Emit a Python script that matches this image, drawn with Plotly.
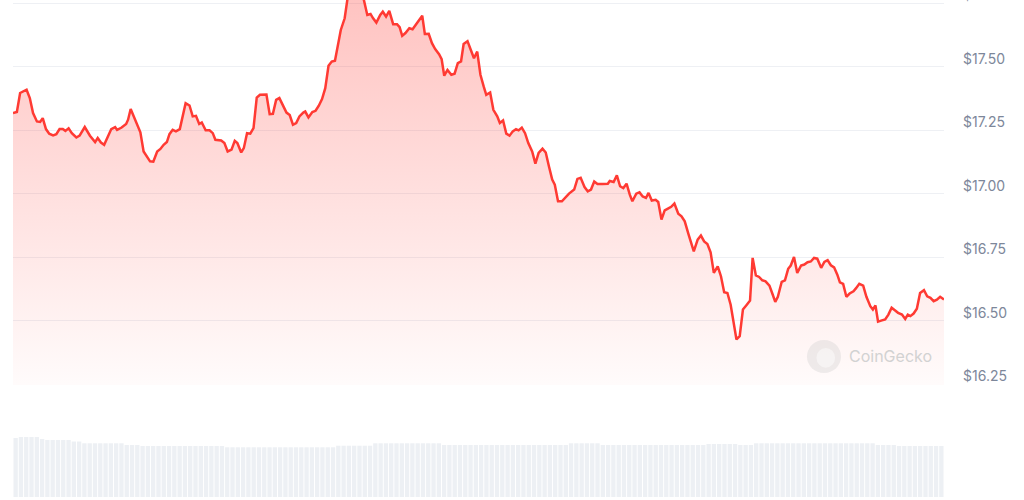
import pandas as pd
import plotly.graph_objects as go

# 24h price, minutes from start of window / USD
minutes = [
    0, 6, 11, 16, 21, 26, 31, 37, 42, 46, 51, 56, 62, 67, 72, 77, 81, 86, 91, 98,
    103, 111, 119, 127, 131, 136, 141, 152, 158, 161, 168, 175, 178, 182, 186, 192, 197, 202, 207, 212,
    217, 223, 228, 233, 238, 242, 247, 252, 258, 263, 267, 273, 278, 283, 288, 292, 298, 304, 309, 313,
    322, 327, 332, 338, 343, 347, 353, 357, 362, 367, 372, 377, 382, 392, 397, 402, 407, 412, 418, 423,
    428, 433, 438, 443, 449, 452, 457, 463, 468, 473, 478, 483, 488, 493, 498, 502, 507, 513, 518, 523,
    530, 536, 542, 548, 553, 557, 562, 568, 572, 577, 582, 588, 594, 598, 602, 607, 613, 618, 623, 628,
    633, 637, 643, 648, 653, 659, 663, 667, 672, 678, 683, 688, 693, 697, 703, 708, 713, 718, 723, 728,
    732, 738, 743, 749, 753, 758, 763, 768, 773, 778, 782, 787, 792, 797, 803, 808, 813, 819, 824, 829,
    834, 838, 843, 849, 855, 860, 868, 873, 878, 884, 889, 894, 899, 904, 912, 920, 923, 929, 934, 939,
    944, 949, 954, 958, 964, 969, 974, 979, 983, 988, 994, 998, 1003, 1008, 1013, 1018, 1023, 1029, 1034, 1039,
    1045, 1050, 1053, 1059, 1064, 1069, 1074, 1079, 1084, 1090, 1095, 1100, 1105, 1110, 1115, 1119, 1124, 1129, 1135, 1140,
    1144, 1149, 1154, 1159, 1164, 1170, 1175, 1179, 1183, 1189, 1194, 1199, 1203, 1208, 1213, 1219, 1224, 1229, 1234, 1239,
    1244, 1250, 1255, 1260, 1265, 1270, 1275, 1279, 1284, 1289, 1294, 1300, 1304, 1309, 1315, 1320, 1326, 1330, 1334, 1338,
    1344, 1349, 1354, 1359, 1364, 1369, 1375, 1380, 1384, 1388, 1393, 1398, 1403, 1409, 1414, 1419, 1424, 1429, 1434, 1440,
]
prices = [
    17.318, 17.322, 17.397, 17.403, 17.410, 17.377, 17.318, 17.285, 17.283, 17.298,
    17.255, 17.237, 17.230, 17.235, 17.255, 17.255, 17.248, 17.258, 17.239, 17.222,
    17.229, 17.263, 17.229, 17.204, 17.220, 17.202, 17.193, 17.255, 17.263, 17.252,
    17.261, 17.275, 17.292, 17.334, 17.311, 17.275, 17.242, 17.167, 17.145, 17.128,
    17.127, 17.167, 17.177, 17.193, 17.204, 17.235, 17.252, 17.246, 17.255, 17.311,
    17.357, 17.348, 17.305, 17.307, 17.275, 17.281, 17.250, 17.250, 17.239, 17.213,
    17.210, 17.200, 17.167, 17.174, 17.209, 17.200, 17.163, 17.180, 17.239, 17.237,
    17.259, 17.379, 17.390, 17.391, 17.314, 17.315, 17.370, 17.377, 17.347, 17.320,
    17.310, 17.272, 17.279, 17.305, 17.320, 17.324, 17.301, 17.322, 17.327, 17.347,
    17.373, 17.416, 17.504, 17.521, 17.524, 17.580, 17.645, 17.691, 17.779, 17.818,
    17.803, 17.826, 17.771, 17.704, 17.708, 17.691, 17.674, 17.704, 17.717, 17.698,
    17.720, 17.668, 17.668, 17.656, 17.622, 17.633, 17.652, 17.648, 17.665, 17.682,
    17.701, 17.629, 17.630, 17.593, 17.570, 17.550, 17.530, 17.465, 17.488, 17.469,
    17.473, 17.515, 17.521, 17.590, 17.601, 17.567, 17.534, 17.560, 17.469, 17.423,
    17.390, 17.399, 17.331, 17.305, 17.279, 17.289, 17.237, 17.229, 17.246, 17.255,
    17.250, 17.261, 17.239, 17.200, 17.167, 17.119, 17.161, 17.178, 17.163, 17.108,
    17.056, 17.036, 16.971, 16.971, 16.988, 17.001, 17.017, 17.059, 17.063, 17.027,
    17.010, 17.017, 17.049, 17.039, 17.039, 17.040, 17.051, 17.047, 17.073, 17.030,
    17.023, 17.040, 16.997, 16.971, 17.001, 17.006, 16.990, 16.984, 17.004, 16.974,
    16.977, 16.968, 16.899, 16.935, 16.942, 16.949, 16.962, 16.922, 16.912, 16.892,
    16.840, 16.800, 16.774, 16.820, 16.836, 16.813, 16.803, 16.770, 16.689, 16.715,
    16.676, 16.613, 16.610, 16.564, 16.493, 16.427, 16.440, 16.545, 16.564, 16.580,
    16.748, 16.679, 16.673, 16.660, 16.656, 16.639, 16.604, 16.575, 16.595, 16.654,
    16.660, 16.705, 16.718, 16.752, 16.689, 16.718, 16.722, 16.731, 16.734, 16.748,
    16.745, 16.709, 16.732, 16.739, 16.719, 16.711, 16.682, 16.652, 16.646, 16.595,
    16.608, 16.617, 16.629, 16.646, 16.639, 16.595, 16.558, 16.545, 16.561, 16.497,
    16.502, 16.506, 16.525, 16.552, 16.542, 16.532, 16.525, 16.508, 16.525, 16.519,
    16.529, 16.548, 16.610, 16.621, 16.597, 16.591, 16.578, 16.584, 16.595, 16.584,
]

# volume bars (rolling 24h volume, $M)
volume = [
    59, 60, 60, 60, 60, 58, 57, 57, 57, 57, 57, 55.5, 55.5,
    53.7, 53.7, 53.7, 53.7, 53.7, 53.7, 53.7, 53.7, 52, 52, 52,
    51, 51, 51, 51, 51, 51, 51, 51, 51, 51, 51, 51, 51, 51, 51, 51,
    49.7, 49.7, 49.7, 49.7, 49.7, 49.7, 49.7, 49.7, 49.7, 49.7, 49.7,
    49.7, 49.7, 49.7, 49.7, 49.7, 49.7, 49.7, 49.7, 49.7, 49.7,
    51.3, 51.3, 51.3, 51.3, 51.3, 51.3, 51.3,
    53.7, 53.7, 53.7, 53.7, 53.7, 53.7, 53.7, 53.7, 53.7, 53.7, 53.7, 53.7, 53.7,
    52, 52, 52, 52, 52, 52, 52, 52, 52, 52, 52, 52,
    52, 52, 52, 52, 52, 52, 52, 52, 52, 52, 52, 52,
    53.7, 53.7, 53.7, 53.7, 53.7, 53.7,
    52, 52, 52, 52, 52, 52, 52, 52, 52, 52, 52, 52, 52, 52, 52, 52, 52, 52, 52, 52,
    53, 53, 53, 53, 53, 53, 52, 52, 52,
    53.7, 53.7, 53.7, 53.7, 53.7, 53.7, 53.7, 53.7, 53.7, 53.7, 53.7, 53.7,
    53.7, 53.7, 53.7, 53.7, 53.7, 53.7, 53.7, 53.7, 53.7, 53.7, 53.7,
    52, 52, 52, 52, 51, 51, 51, 51, 51, 51, 51, 51, 51,
]

price_ticks = [16.25, 16.50, 16.75, 17.00, 17.25, 17.50, 17.75]
tick_labels = ["$16.25", "$16.50", "$16.75", "$17.00", "$17.25", "$17.50", "$17.75"]

RED = "#ff3a33"
GRID = "#eef0f4"
LABEL = "#7d879a"

t0 = pd.Timestamp("2024-06-01 00:00")
times = t0 + pd.to_timedelta(minutes, unit="m")

fig = go.Figure()

fig.add_trace(go.Bar(
    x=list(range(len(volume))), y=volume,
    xaxis="x2", yaxis="y2",
    marker=dict(color="#edf0f4", line=dict(width=0)),
    hoverinfo="skip", showlegend=False,
))

fig.add_trace(go.Scatter(
    x=times, y=prices, mode="lines",
    line=dict(color=RED, width=2.5),
    fill="tozeroy",
    fillgradient=dict(
        type="vertical", start=16.25, stop=17.75,
        colorscale=[[0, "rgba(255,58,51,0.02)"], [1, "rgba(255,58,51,0.30)"]],
    ),
    showlegend=False,
))

# CoinGecko watermark
fig.add_shape(
    type="circle", xref="paper", yref="paper",
    x0=0.8528, x1=0.8894, y0=0.2495, y1=0.3159,
    fillcolor="rgba(205,205,205,0.35)", line=dict(width=0),
)
fig.add_shape(
    type="circle", xref="paper", yref="paper",
    x0=0.8630, x1=0.8830, y0=0.2600, y1=0.3000,
    fillcolor="rgba(255,255,255,0.45)", line=dict(width=0),
)
fig.add_annotation(
    x=0.8958, y=0.2843, xref="paper", yref="paper",
    xanchor="left", yanchor="middle", showarrow=False,
    text="CoinGecko", font=dict(family="Inter", size=16, color="#d2d2d2"),
)

fig.update_layout(
    width=1024, height=500,
    margin=dict(l=13, r=80, t=0, b=3, autoexpand=False),
    paper_bgcolor="white", plot_bgcolor="white",
    bargap=0.18,
    font=dict(family="Inter"),
    xaxis=dict(
        domain=[0, 1], anchor="y", visible=False,
        range=[t0, t0 + pd.Timedelta(minutes=1440)],
    ),
    yaxis=dict(
        domain=[0.2254, 1], range=[16.248, 17.763], side="right",
        tickvals=price_ticks, ticktext=tick_labels,
        showgrid=True, gridcolor=GRID, gridwidth=1,
        zeroline=False, showline=False, ticks="", automargin=False,
        ticklabelshift=-8, ticklabelstandoff=18, ticklabeloverflow="allow",
        tickfont=dict(family="Inter", size=14, color=LABEL),
    ),
    xaxis2=dict(
        domain=[0, 1], anchor="y2", visible=False,
        range=[-0.5, len(volume) - 0.5],
    ),
    yaxis2=dict(domain=[0, 0.2012], range=[0, 100], visible=False),
)

fig.write_html(
    "out.html",
    config={"displayModeBar": False},
    post_script=["document.body.style.margin = '0';"],
)
